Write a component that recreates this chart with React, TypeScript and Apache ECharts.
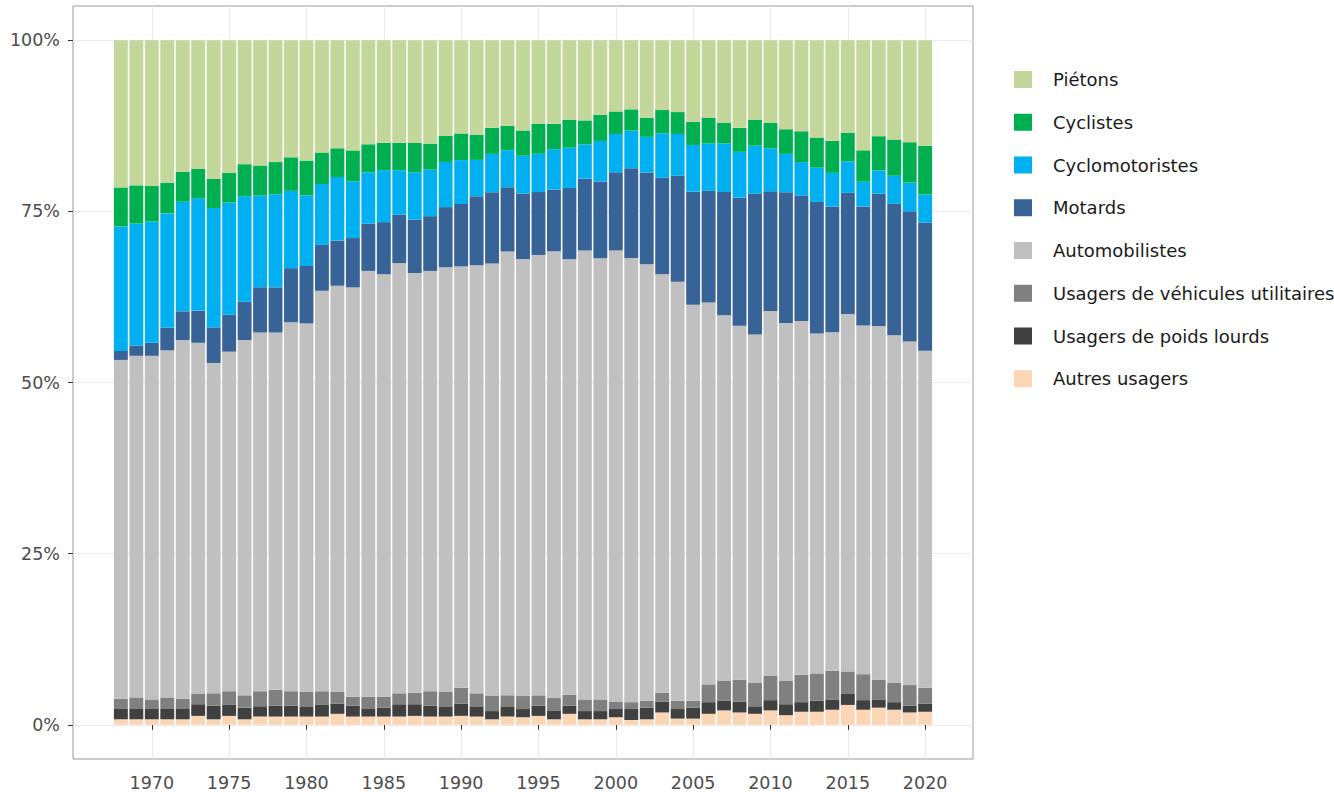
import React, { useEffect, useRef } from "react";
import * as echarts from "echarts";

const years = [
  1968, 1969, 1970, 1971, 1972, 1973, 1974, 1975, 1976, 1977, 1978, 1979, 1980,
  1981, 1982, 1983, 1984, 1985, 1986, 1987, 1988, 1989, 1990, 1991, 1992, 1993,
  1994, 1995, 1996, 1997, 1998, 1999, 2000, 2001, 2002, 2003, 2004, 2005, 2006,
  2007, 2008, 2009, 2010, 2011, 2012, 2013, 2014, 2015, 2016, 2017, 2018, 2019,
  2020,
];

const pietons = [
  21.5, 21.2, 21.3, 20.8, 19.2, 18.8, 20.2, 19.4, 18.1, 18.3, 17.8, 17.1, 17.6,
  16.4, 15.8, 16.1, 15.2, 15.0, 15.0, 15.0, 15.1, 14.0, 13.6, 13.8, 12.8, 12.5,
  13.2, 12.2, 12.2, 11.6, 11.7, 10.9, 10.4, 10.1, 11.3, 10.2, 10.5, 11.9, 11.3,
  12.1, 12.8, 11.6, 12.1, 13.0, 13.3, 14.2, 14.7, 13.5, 16.1, 14.0, 14.5, 14.9,
  15.4,
];
const cyclistes = [
  5.7, 5.6, 5.2, 4.5, 4.4, 4.3, 4.3, 4.3, 4.7, 4.4, 4.7, 4.9, 5.1,
  4.6, 4.2, 4.5, 4.1, 4.0, 4.0, 4.3, 3.8, 3.8, 3.9, 3.7, 3.8, 3.6,
  3.7, 4.4, 3.7, 4.1, 3.5, 3.8, 3.3, 3.1, 2.8, 3.4, 3.2, 3.4, 3.8,
  3.0, 3.5, 3.8, 3.7, 3.6, 4.5, 4.4, 4.7, 4.2, 4.6, 5.0, 5.3, 5.9,
  7.1,
];
const cyclomotoristes = [
  18.2, 17.8, 17.7, 16.7, 16.0, 16.4, 17.4, 16.4, 15.4, 13.4, 13.6, 11.3, 10.3,
  8.9, 9.3, 8.3, 7.5, 7.6, 6.5, 6.9, 6.8, 6.6, 6.4, 5.3, 5.6, 5.4,
  5.5, 5.6, 5.9, 5.9, 5.0, 5.9, 5.6, 5.5, 5.2, 6.5, 6.1, 6.8, 6.9,
  7.1, 6.7, 7.0, 6.3, 5.6, 4.9, 5.0, 4.9, 4.6, 3.6, 3.4, 4.1, 4.2,
  4.1,
];
const motards = [
  1.3, 1.5, 1.9, 3.3, 4.2, 4.7, 5.2, 5.4, 5.6, 6.6, 6.6, 7.9, 8.4,
  6.7, 6.6, 7.2, 6.9, 7.6, 7.1, 7.8, 8.0, 8.8, 9.1, 10.1, 10.4, 9.4,
  9.6, 9.2, 9.0, 10.4, 10.5, 11.2, 11.4, 13.1, 13.4, 14.1, 15.5, 16.5, 16.3,
  18.0, 18.7, 20.6, 17.5, 19.1, 18.3, 19.2, 18.4, 17.7, 17.4, 19.3, 19.2, 19.0,
  18.7,
];
const automobilistes = [
  49.5, 49.9, 50.2, 50.7, 52.4, 51.3, 48.2, 49.6, 51.9, 52.4, 52.2, 53.9, 53.9,
  58.5, 59.4, 59.8, 62.2, 61.8, 62.9, 61.3, 61.4, 62.1, 61.5, 62.6, 63.2, 64.9,
  63.9, 64.4, 65.2, 63.6, 65.5, 64.4, 65.9, 64.9, 63.7, 61.1, 61.2, 57.8, 55.8,
  53.5, 51.7, 50.9, 53.3, 52.3, 51.7, 49.6, 49.5, 52.2, 51.0, 51.6, 50.8, 50.2,
  49.2,
];
const utilitaires = [
  1.4, 1.6, 1.3, 1.6, 1.4, 1.5, 1.8, 2.0, 1.8, 2.2, 2.3, 2.1, 2.2,
  2.0, 1.7, 1.3, 1.7, 1.6, 1.6, 1.7, 2.1, 2.2, 2.3, 2.0, 2.2, 1.7,
  1.9, 1.5, 1.8, 1.6, 1.7, 1.7, 1.1, 1.0, 1.0, 1.3, 1.2, 1.0, 2.6,
  2.9, 3.2, 3.4, 3.6, 3.4, 4.0, 4.0, 4.2, 3.3, 3.8, 2.9, 2.8, 3.0,
  2.3,
];
const poidsLourds = [
  1.6, 1.6, 1.6, 1.6, 1.6, 1.7, 2.0, 1.6, 1.7, 1.5, 1.6, 1.6, 1.4,
  1.7, 1.5, 1.6, 1.2, 1.3, 1.8, 1.7, 1.6, 1.4, 1.8, 1.4, 1.2, 1.4,
  1.2, 1.5, 1.3, 1.2, 1.2, 1.2, 1.2, 1.6, 1.7, 1.6, 1.4, 1.6, 1.7,
  1.4, 1.6, 1.1, 1.5, 1.6, 1.4, 1.6, 1.5, 1.6, 1.4, 1.2, 1.1, 1.0,
  1.2,
];
const autres = [
  0.8, 0.8, 0.8, 0.8, 0.8, 1.3, 0.8, 1.3, 0.8, 1.2, 1.2, 1.2, 1.2,
  1.2, 1.6, 1.2, 1.2, 1.2, 1.2, 1.3, 1.2, 1.2, 1.3, 1.2, 0.8, 1.2,
  1.1, 1.3, 0.8, 1.6, 0.8, 0.8, 1.1, 0.7, 0.8, 1.8, 0.9, 0.9, 1.6,
  2.1, 1.8, 1.6, 2.1, 1.4, 1.9, 1.9, 2.2, 2.9, 2.2, 2.5, 2.2, 1.8,
  1.9,
];

const xTicks = [1970, 1975, 1980, 1985, 1990, 1995, 2000, 2005, 2010, 2015, 2020];
const yTicks = [0, 25, 50, 75, 100];

// stacking order: bottom to top
const seriesDefs = [
  { name: "Autres usagers", data: autres, color: "#FCD5B4" },
  { name: "Usagers de poids lourds", data: poidsLourds, color: "#404040" },
  { name: "Usagers de véhicules utilitaires", data: utilitaires, color: "#808080" },
  { name: "Automobilistes", data: automobilistes, color: "#C0C0C0" },
  { name: "Motards", data: motards, color: "#376396" },
  { name: "Cyclomotoristes", data: cyclomotoristes, color: "#00B0F0" },
  { name: "Cyclistes", data: cyclistes, color: "#00B050" },
  { name: "Piétons", data: pietons, color: "#C4D79B" },
];

const FONT = "DejaVu Sans";

export default function App() {
  const ref = useRef<HTMLDivElement>(null);

  useEffect(() => {
    if (!ref.current) return;
    const chart = echarts.init(ref.current, undefined, { renderer: "svg" });

    const totals = years.map((_, i) =>
      seriesDefs.reduce((s, d) => s + d.data[i], 0)
    );

    // value first, year second, so that the stack is computed on the value dimension
    const series = seriesDefs.map((d) => ({
      name: d.name,
      type: "bar",
      stack: "total",
      barWidth: "90%",
      itemStyle: { color: d.color },
      emphasis: { disabled: true },
      encode: { x: 1, y: 0 },
      data: years.map((y, i) => [(d.data[i] / totals[i]) * 100, y]),
    }));

    chart.setOption({
      animation: false,
      backgroundColor: "#ffffff",
      grid: {
        left: 73,
        right: 361,
        top: 6,
        bottom: 33,
        show: true,
        borderColor: "#9a9a9a",
        borderWidth: 1,
        backgroundColor: "transparent",
      },
      legend: {
        orient: "vertical",
        left: 1014,
        top: 70.5,
        padding: 0,
        itemWidth: 18,
        itemHeight: 17,
        itemGap: 24.75,
        icon: "rect",
        selectedMode: false,
        data: [...seriesDefs].reverse().map((d) => d.name),
        textStyle: {
          fontFamily: FONT,
          fontSize: 18,
          color: "#1a1a1a",
          padding: [0, 0, 0, 16],
        },
      },
      xAxis: {
        type: "value",
        min: 1964.905,
        max: 2023.095,
        axisLine: { show: false },
        axisTick: {
          show: true,
          customValues: xTicks,
          length: 5,
          lineStyle: { color: "#333333" },
        },
        axisLabel: {
          customValues: xTicks,
          margin: 15,
          fontFamily: FONT,
          fontSize: 17.5,
          color: "#4d4d4d",
          formatter: (v: number) => String(v),
        },
        splitLine: { show: true, lineStyle: { color: "#ebebeb", width: 1 } },
      },
      yAxis: {
        type: "value",
        min: -5,
        max: 105,
        axisLine: { show: false },
        axisTick: {
          show: true,
          customValues: yTicks,
          length: 5,
          lineStyle: { color: "#333333" },
        },
        axisLabel: {
          customValues: yTicks,
          margin: 13,
          fontFamily: FONT,
          fontSize: 17.5,
          color: "#4d4d4d",
          formatter: (v: number) => `${v}%`,
        },
        splitLine: { show: true, lineStyle: { color: "#ebebeb", width: 1 } },
      },
      series,
    });

    return () => chart.dispose();
  }, []);

  return (
    <div
      ref={ref}
      style={{ position: "fixed", left: 0, top: 0, width: 1334, height: 792 }}
    />
  );
}
